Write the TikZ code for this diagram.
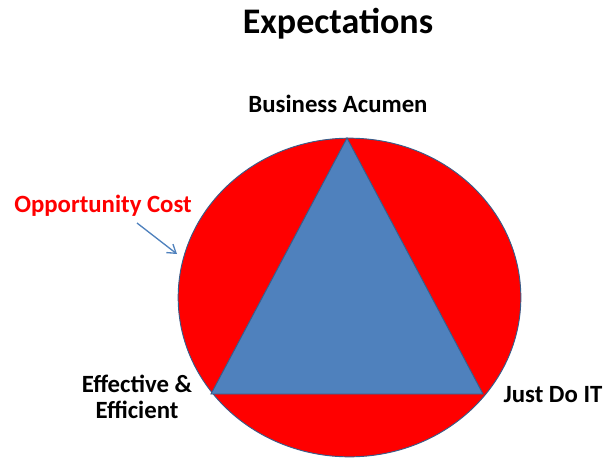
\documentclass[tikz,border=0pt]{standalone}
\usepackage{fontspec}
\setmainfont{Carlito}
\usetikzlibrary{shapes.geometric,arrows.meta}

\definecolor{ringred}{HTML}{FF0000}
\definecolor{triblue}{HTML}{4F81BD}
\definecolor{edgeblue}{HTML}{385D8A}

\tikzset{
    lbl/.style = {font=\fontsize{18.6}{20}\selectfont\bfseries, align=center, inner sep=0pt},
    edge/.style = {draw=edgeblue, line width=0.7pt}
}

\begin{document}
\begin{tikzpicture}[x = 0.75pt, y = -0.75pt]
    \useasboundingbox (0,0) rectangle (605,457);
    \node[ellipse, edge, fill=ringred, minimum width=257pt, minimum height=239pt, inner sep=0pt] (ring) at (349.5,297.5) {};
    \coordinate (top) at (347,138);
    \coordinate (left) at (211,394);
    \coordinate (right) at (483,394);
    \draw[edge, fill=triblue] (top) -- (right) -- (left) -- cycle;
    \node[font=\fontsize{27}{29}\selectfont\bfseries] (title) at (338,24) {Expectations};
    \node[lbl] (acumen) at (338,104) {Business Acumen};
    \node[lbl, text=ringred] (cost) at (103,206) {Opportunity Cost};
    \node[lbl] (effective) at (137,397) {Effective \&\\Efficient};
    \node[lbl] (justdo) at (553,395) {Just Do IT};
    \coordinate (hit) at (177,254);
    \draw[triblue, line width=1pt, -{Straight Barb[length=6pt, width=8pt]}] (137,223) -- (hit);
\end{tikzpicture}
\end{document}
